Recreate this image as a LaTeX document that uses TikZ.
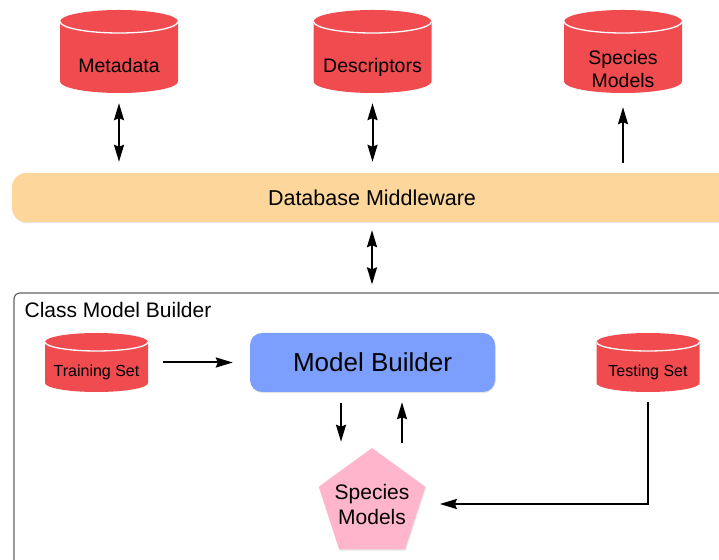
\documentclass[tikz,border=0pt]{standalone}
\usepackage{fontspec}
\setmainfont{Liberation Sans}
\usetikzlibrary{positioning,shapes.geometric,arrows.meta,calc,shadows}

\definecolor{dbred}{RGB}{240,76,80}
\definecolor{mwyellow}{RGB}{253,214,155}
\definecolor{mbblue}{RGB}{124,158,253}
\definecolor{smpink}{RGB}{255,181,204}
\definecolor{boxgray}{RGB}{100,100,100}

\tikzset{cyl ry/.store in=\cylry, cyl ry=11.5pt}

\begin{document}
\begin{tikzpicture}[x=1pt, y=1pt, >={Stealth[length=17pt,width=10pt,inset=2pt]},
    conn/.style={line width=2pt},
    db node/.style={minimum width=118pt, minimum height=83pt, inner sep=0pt,
        path picture={
            \fill[dbred] let \p1=(path picture bounding box.north west), \p2=(path picture bounding box.south east), \n1={(\x2-\x1)/2} in
                (\x1,\y1-\cylry) arc (180:0:\n1 and \cylry) -- (\x2,\y2+\cylry) arc (0:-180:\n1 and \cylry) -- cycle;
            \draw[white, line width=1.3pt] let \p1=(path picture bounding box.north west), \p2=(path picture bounding box.south east), \n1={(\x2-\x1)/2} in
                (\x1,\y1-\cylry) arc (180:360:\n1 and \cylry);
        }},
    small db/.style={db node, minimum width=103pt, minimum height=59pt, cyl ry=9pt},
    cyl text/.style={font=\fontsize{19.5}{23}\selectfont, align=center},
    small text/.style={font=\fontsize{16}{19}\selectfont},
    mw node/.style={rectangle, rounded corners=14pt, fill=mwyellow, minimum width=720pt, minimum height=49pt,
        drop shadow={opacity=0.2, shadow xshift=0.8pt, shadow yshift=-1.2pt}, font=\fontsize{21.5}{26}\selectfont},
    class box/.style={rectangle, rounded corners=6pt, draw=boxgray, line width=1.2pt, minimum width=726pt, minimum height=287pt},
    class label/.style={inner sep=0pt, font=\fontsize{21}{25}\selectfont},
    mb node/.style={rectangle, rounded corners=12pt, fill=mbblue, minimum width=245pt, minimum height=59pt,
        drop shadow={opacity=0.2, shadow xshift=0.8pt, shadow yshift=-1.2pt}, font=\fontsize{26}{30}\selectfont},
    spec node/.style={regular polygon, regular polygon sides=5, minimum size=112pt, inner sep=0pt, fill=smpink,
        drop shadow={opacity=0.2, shadow xshift=0.8pt, shadow yshift=-1.2pt}},
    spec text/.style={font=\fontsize{21}{25}\selectfont, align=center}]

    \useasboundingbox (0,0) rectangle (719,559);

    % data stores
    \node[db node, label={[cyl text, yshift=-14.5pt]center:Metadata}] at (119, 507.5) (meta) {};
    \node[db node, label={[cyl text, yshift=-16pt]center:Descriptors}] at (372.5, 507.5) (desc) {};
    \node[db node, label={[cyl text, yshift=-18pt]center:Species\\Models}] at (623, 507.5) (spm) {};

    \node[mw node] at (372, 361.5) (mw) {Database Middleware};

    % class model builder
    \node[class box] at (377, 122.5) (cmb) {};
    \node[class label, below right=10pt and 11pt of cmb.north west] (cmb label) {Class Model Builder};

    \node[small db, label={[small text, yshift=-10pt]center:Training Set}] at (96.5, 196.5) (train) {};
    \node[small db, label={[small text, yshift=-10pt]center:Testing Set}] at (648, 196.5) (test) {};
    \node[mb node] at (372.5, 196.5) (mb) {Model Builder};
    \node[spec node, label={[spec text]center:Species\\Models}] at (372, 55) (spec) {};

    \path[<->, conn] (meta.south) edge[shorten <=10pt, shorten >=11pt] (meta.south |- mw.north);
    \path[<->, conn] (desc.south) edge[shorten <=10pt, shorten >=11pt] (desc.south |- mw.north);
    \path[->, conn] (spm.south |- mw.north) edge[shorten <=10pt, shorten >=14pt] (spm.south);
    \path[<->, conn] (mw.south) edge[shorten <=8pt, shorten >=8pt] (mw.south |- cmb.north);

    \path[->, conn] (train) edge[shorten <=15pt, shorten >=17pt] (mb);
    \path[->, conn] ([xshift=-31.5pt]mb.south) edge[shorten <=11pt, shorten >=6pt] ([xshift=-31.5pt]mb.south |- spec.north);
    \path[->, conn] ([xshift=29.5pt]mb.south |- spec.north) edge[shorten <=5pt, shorten >=10pt] ([xshift=29.5pt]mb.south);
    \draw[->, conn, shorten <=10pt, shorten >=20pt] (test) |- (spec);
\end{tikzpicture}
\end{document}
